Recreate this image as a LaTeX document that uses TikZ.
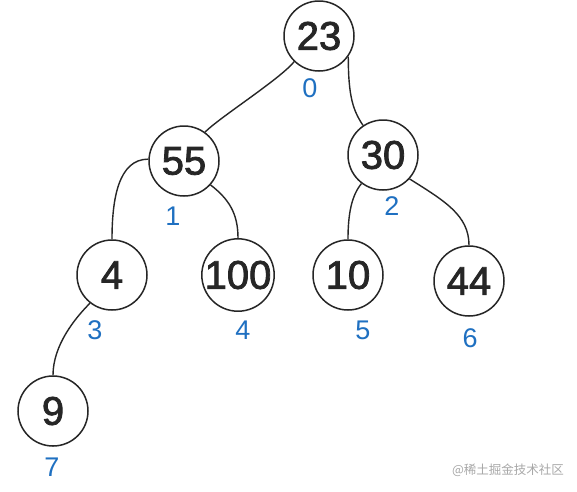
\documentclass[tikz,border=0pt]{standalone}
\usepackage{fontspec}
\setmainfont{Liberation Sans}
\newfontfamily\numfont[FakeBold=2]{Liberation Sans}
\newfontfamily\cjk{Noto Sans CJK SC}
\definecolor{ink}{HTML}{262626}
\definecolor{idx}{HTML}{1F70C1}
\definecolor{wm}{HTML}{A8A8A8}
\begin{document}
\begin{tikzpicture}[x=1pt,y=-1pt,
  treenode/.style={circle,draw=ink,line width=1.5pt,minimum size=70pt,inner sep=0pt,
    font=\numfont\fontsize{40}{44}\selectfont,text=ink},
  idxlabel/.style={font=\fontsize{27}{30}\selectfont,text=idx,inner sep=0pt},
  edge/.style={draw=ink,line width=1.4pt}]
\useasboundingbox (0,0) rectangle (577,491);
\fill[white] (0,0) rectangle (577,491);
\node[treenode] (n23) at (319,36) {23};
\node[treenode] (n55) at (184,161) {55};
\node[treenode] (n30) at (383,155) {30};
\node[treenode] (n4) at (112,275) {4};
\node[treenode] (n100) at (238,275) {100};
\node[treenode] (n10) at (348,275) {10};
\node[treenode] (n44) at (469,281) {44};
\node[treenode] (n9) at (53,411) {9};
\node[idxlabel] (l0) at (310,88) {0};
\node[idxlabel] (l1) at (173,216) {1};
\node[idxlabel] (l2) at (392,206) {2};
\node[idxlabel] (l3) at (95,330) {3};
\node[idxlabel] (l4) at (243,330) {4};
\node[idxlabel] (l5) at (363,330) {5};
\node[idxlabel] (l6) at (470,338) {6};
\node[idxlabel] (l7) at (52,467) {7};
\node[font=\cjk\fontsize{12.5}{14}\selectfont,text=wm,inner sep=0pt] (wmk) at (508,470) {@稀土掘金技术社区};
\draw[edge] (n23.226) .. controls +(-15,18) and +(15,-15) .. (n55.54);
\draw[edge] (n23.325) .. controls +(0,40) and +(-10,-15) .. (n30.124);
\draw[edge] (n55.177) .. controls +(-30,0) and +(0,-40) .. (n4.north);
\draw[edge] (n55.318) .. controls +(18,14) and +(0,-25) .. (n100.north);
\draw[edge] (n4.232) .. controls +(-15,15) and +(0,-30) .. (n9.north);
\draw[edge] (n30.233) .. controls +(-10,12) and +(0,-25) .. (n10.north);
\draw[edge] (n30.318) .. controls +(35,22) and +(0,-30) .. (n44.north);
\end{tikzpicture}
\end{document}
